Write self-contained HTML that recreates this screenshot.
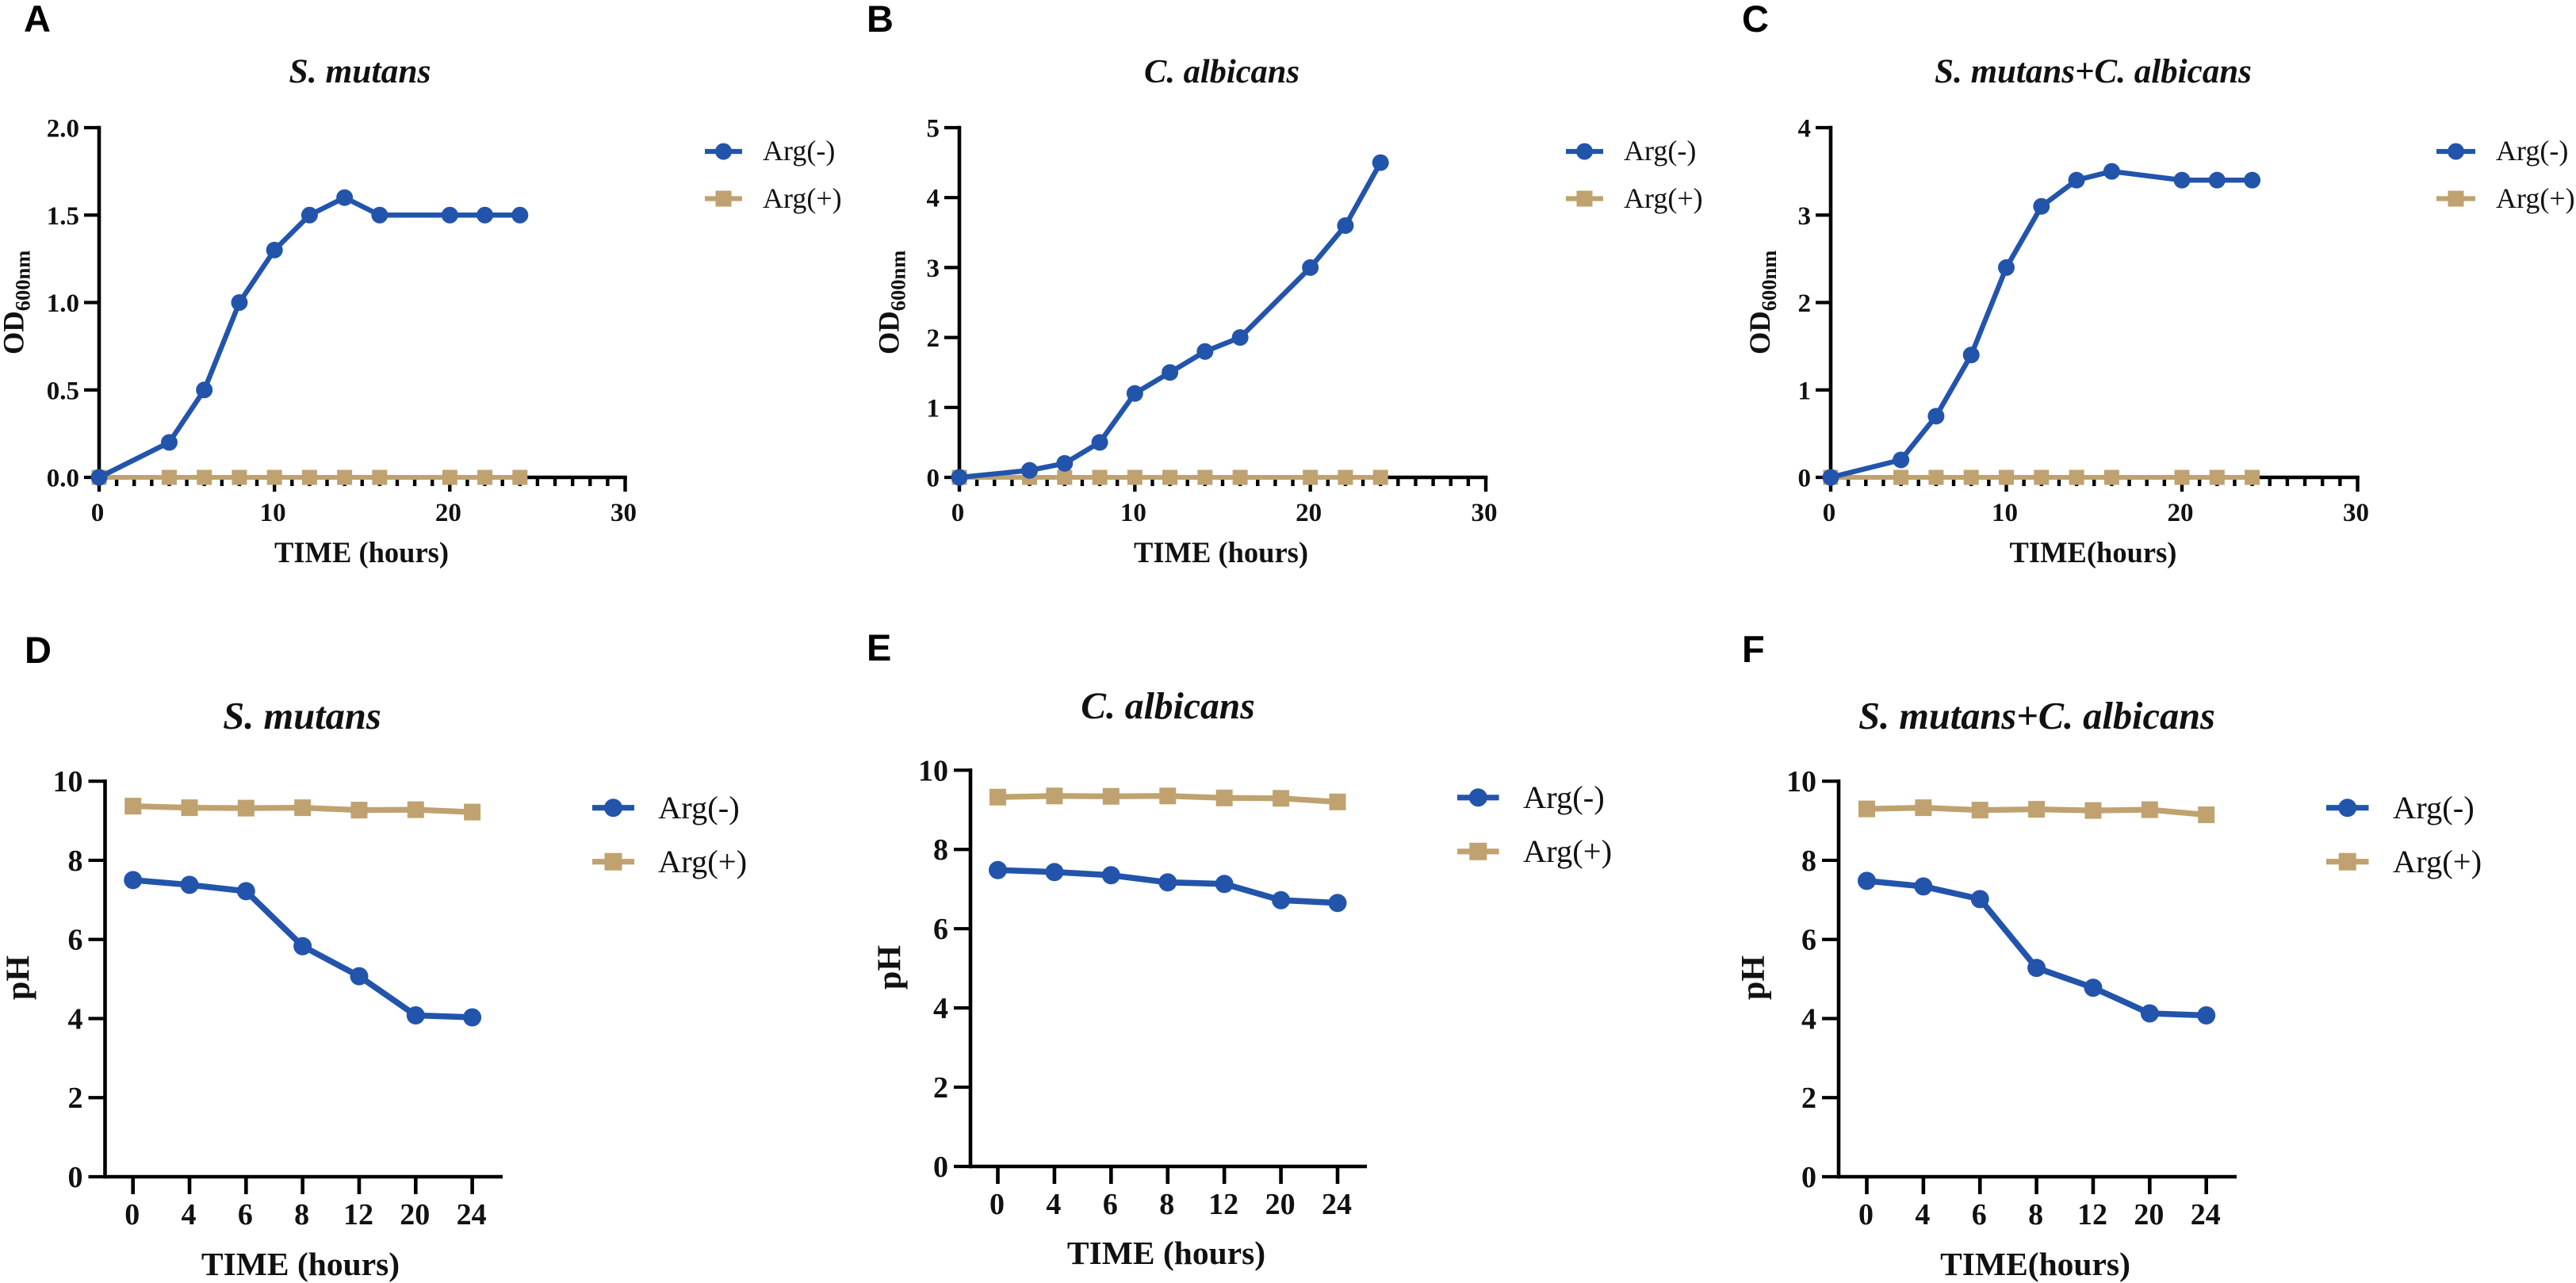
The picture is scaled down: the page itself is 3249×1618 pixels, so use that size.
<!DOCTYPE html>
<html lang="en">
<head>
<meta charset="utf-8">
<title>Growth and pH curves</title>
<style>
html,body{margin:0;padding:0;background:#fff;}
svg{display:block;}
text{font-family:"Liberation Serif",serif;fill:#111;}
.letter{font-family:"Liberation Sans",sans-serif;font-weight:700;font-size:47px;fill:#000;}
.title{font-weight:700;font-style:italic;text-anchor:middle;}
.xl,.yl{font-weight:700;}
.xl{text-anchor:middle;}
.leg{font-weight:400;}
</style>
</head>
<body>
<svg id="fig" xmlns="http://www.w3.org/2000/svg" width="3249" height="1618" viewBox="0 0 3249 1618">
<rect width="3249" height="1618" fill="#fff"/>

<text class="letter" x="30" y="40">A</text>
<text class="letter" x="1093" y="40">B</text>
<text class="letter" x="2197" y="40">C</text>
<text class="letter" x="31" y="836">D</text>
<text class="letter" x="1093" y="833">E</text>
<text class="letter" x="2197" y="835">F</text>

<text class="title" x="454" y="104" font-size="43.5">S. mutans</text>
<text class="title" x="1541" y="104" font-size="42.5">C. albicans</text>
<text class="title" x="2640" y="104" font-size="43">S. mutans+C. albicans</text>
<text class="title" x="381" y="919" font-size="48.5">S. mutans</text>
<text class="title" x="1473" y="906" font-size="47.6">C. albicans</text>
<text class="title" x="2569" y="919" font-size="48.4">S. mutans+C. albicans</text>

<text class="xl" x="456" y="709" font-size="36.5">TIME (hours)</text>
<text class="xl" x="1540" y="709" font-size="36.5">TIME (hours)</text>
<text class="xl" x="2640" y="709" font-size="36.5">TIME(hours)</text>
<text class="xl" x="379" y="1608" font-size="41.5">TIME (hours)</text>
<text class="xl" x="1471" y="1594" font-size="41.5">TIME (hours)</text>
<text class="xl" x="2567" y="1608" font-size="41.5">TIME(hours)</text>

<text class="yl" transform="translate(29.5,447) rotate(-90)" font-size="36.5">OD<tspan font-size="26.5" dy="8">600nm</tspan></text>
<text class="yl" transform="translate(1133.7,447) rotate(-90)" font-size="36.5">OD<tspan font-size="26.5" dy="8">600nm</tspan></text>
<text class="yl" transform="translate(2232,447) rotate(-90)" font-size="36.5">OD<tspan font-size="26.5" dy="8">600nm</tspan></text>
<text class="yl" transform="translate(36.5,1233) rotate(-90)" text-anchor="middle" font-size="42">pH</text>
<text class="yl" transform="translate(1135.5,1220) rotate(-90)" text-anchor="middle" font-size="42">pH</text>
<text class="yl" transform="translate(2225,1233) rotate(-90)" text-anchor="middle" font-size="42">pH</text>

<text class="leg" x="962" y="202" font-size="36">Arg(-)</text>
<text class="leg" x="962" y="262" font-size="36">Arg(+)</text>
<text class="leg" x="2048" y="202" font-size="36">Arg(-)</text>
<text class="leg" x="2048" y="262" font-size="36">Arg(+)</text>
<text class="leg" x="3148" y="202" font-size="36">Arg(-)</text>
<text class="leg" x="3148" y="262" font-size="36">Arg(+)</text>
<text class="leg" x="830" y="1032" font-size="40.5">Arg(-)</text>
<text class="leg" x="830" y="1100" font-size="40.5">Arg(+)</text>
<text class="leg" x="1921" y="1019" font-size="40.5">Arg(-)</text>
<text class="leg" x="1921" y="1087" font-size="40.5">Arg(+)</text>
<text class="leg" x="3018" y="1032" font-size="40.5">Arg(-)</text>
<text class="leg" x="3018" y="1100" font-size="40.5">Arg(+)</text>
</svg>

<script>
// ---- data: growth curves (top row) ----
const hours = [0, 4, 6, 8, 10, 12, 14, 16, 20, 22, 24];
const odMutansMinus = [0, 0.2, 0.5, 1.0, 1.3, 1.5, 1.6, 1.5, 1.5, 1.5, 1.5];
const odMutansPlus = [0, 0, 0, 0, 0, 0, 0, 0, 0, 0, 0];
const odAlbicansMinus = [0, 0.1, 0.2, 0.5, 1.2, 1.5, 1.8, 2.0, 3.0, 3.6, 4.5];
const odAlbicansPlus = [0, 0, 0, 0, 0, 0, 0, 0, 0, 0, 0];
const odMixedMinus = [0, 0.2, 0.7, 1.4, 2.4, 3.1, 3.4, 3.5, 3.4, 3.4, 3.4];
const odMixedPlus = [0, 0, 0, 0, 0, 0, 0, 0, 0, 0, 0];
const hourTicks = [0, 10, 20, 30];
const odTicksA = ['0.0', '0.5', '1.0', '1.5', '2.0'];
const odTicksB = ['0', '1', '2', '3', '4', '5'];
const odTicksC = ['0', '1', '2', '3', '4'];

// ---- data: pH curves (bottom row) ----
const phCategories = ['0', '4', '6', '8', '12', '20', '24'];
const phMutansMinus = [7.5, 7.38, 7.22, 5.83, 5.07, 4.08, 4.03];
const phMutansPlus = [9.37, 9.33, 9.32, 9.33, 9.27, 9.28, 9.22];
const phAlbicansMinus = [7.48, 7.43, 7.35, 7.17, 7.13, 6.72, 6.65];
const phAlbicansPlus = [9.32, 9.35, 9.34, 9.35, 9.30, 9.29, 9.20];
const phMixedMinus = [7.48, 7.34, 7.02, 5.28, 4.78, 4.13, 4.08];
const phMixedPlus = [9.30, 9.33, 9.27, 9.29, 9.26, 9.28, 9.15];
const phTicks = ['0', '2', '4', '6', '8', '10'];

const BLUE = '#2354ab';
const TAN = '#bfa26f';
const INK = '#000';
const NS = 'http://www.w3.org/2000/svg';
const fig = document.getElementById('fig');

function mk(parent, tag, attrs, txt) {
  const e = document.createElementNS(NS, tag);
  for (const k in attrs) e.setAttribute(k, attrs[k]);
  if (txt !== undefined) e.textContent = txt;
  parent.appendChild(e);
  return e;
}

function group(name) {
  const g = mk(fig, 'g', {});
  
  
  return g;
}

function marker(g, shape, cx, cy, size, color, name) {
  let m;
  if (shape === 'circle') {
    m = mk(g, 'circle', { cx: cx, cy: cy, r: size / 2, fill: color });
  } else {
    m = mk(g, 'rect', { x: cx - size / 2, y: cy - size / 2, width: size, height: size, fill: color });
  }
  
  
}

function series(g, pts, color, shape, size, lw, name) {
  const line = mk(g, 'polyline', {
    points: pts.map(p => p[0] + ',' + p[1]).join(' '),
    fill: 'none', stroke: color, 'stroke-width': lw, 'stroke-linejoin': 'round'
  });
  
  
  pts.forEach((p, i) => marker(g, shape, p[0], p[1], size, color, name + '-point-' + i));
}

function legend(g, x0, x1, y0, y1, size, lw, id) {
  const cx = (x0 + x1) / 2;
  const a = mk(g, 'line', { x1: x0, x2: x1, y1: y0, y2: y0, stroke: BLUE, 'stroke-width': lw });
  
  
  marker(g, 'circle', cx, y0, size, BLUE, 'legend-marker-' + id + '-arg-minus');
  const b = mk(g, 'line', { x1: x0, x2: x1, y1: y1, y2: y1, stroke: TAN, 'stroke-width': lw });
  
  
  marker(g, 'rect', cx, y1, size - 1, TAN, 'legend-marker-' + id + '-arg-plus');
}

function yAxis(g, x, yScale, labels, values, tickLen, fs, gap, dy, id) {
  const ax = mk(g, 'line', { x1: x, x2: x, y1: yScale(values[values.length - 1]) - 2.2, y2: yScale(values[0]) + 2.2, stroke: INK, 'stroke-width': 4.6 });
  
  
  labels.forEach((lab, i) => {
    const y = yScale(values[i]);
    const t = mk(g, 'line', { x1: x - tickLen, x2: x, y1: y, y2: y, stroke: INK, 'stroke-width': 4.2 });
    
    
    const l = mk(g, 'text', { x: x - tickLen - gap, y: y + dy, 'font-size': fs, 'font-weight': 700, 'text-anchor': 'end' }, lab);
    
    
  });
}

function growthPanel(id, x0, x1, yTop, yBot, yMax, yLabels, minus, plus, lx0, lx1) {
  const g = group('panel-' + id);
  const xs = h => x0 + (x1 - x0) * h / 30;
  const ys = v => yBot - (yBot - yTop) * v / yMax;
  const yVals = yLabels.map(Number);
  yAxis(g, x0, ys, yLabels, yVals, 19, 33, 6, 11.5, id);
  const xa = mk(g, 'line', { x1: x0 - 2, x2: x1 + 2.3, y1: yBot, y2: yBot, stroke: INK, 'stroke-width': 4.6 });
  
  
  for (let h = 0; h <= 30; h++) {
    const major = h % 10 === 0;
    const t = mk(g, 'line', { x1: xs(h), x2: xs(h), y1: yBot, y2: yBot + (major ? 18 : 11), stroke: INK, 'stroke-width': 4.4 });
    
    
  }
  hourTicks.forEach(h => {
    const l = mk(g, 'text', { x: xs(h) - 2, y: yBot + 55, 'font-size': 33, 'font-weight': 700, 'text-anchor': 'middle' }, String(h));
    
    
  });
  series(g, hours.map((h, i) => [xs(h), ys(plus[i])]), TAN, 'rect', 19, 6, 'series-' + id + '-arg-plus');
  series(g, hours.map((h, i) => [xs(h), ys(minus[i])]), BLUE, 'circle', 21, 6.4, 'series-' + id + '-arg-minus');
  legend(g, lx0, lx1, yTop + 30, yTop + 89.5, 21, 6.2, id);
}

function phPanel(id, axisX, endX, x0, x1, yTop, yBot, minus, plus, lx0, lx1, ly0, ly1) {
  const g = group('panel-' + id);
  const xs = i => x0 + (x1 - x0) * i / (phCategories.length - 1);
  const ys = v => yBot - (yBot - yTop) * v / 10;
  yAxis(g, axisX, ys, phTicks, phTicks.map(Number), 21, 38, 7, 13, id);
  const xa = mk(g, 'line', { x1: axisX - 2, x2: endX, y1: yBot, y2: yBot, stroke: INK, 'stroke-width': 4.6 });
  
  
  phCategories.forEach((c, i) => {
    const t = mk(g, 'line', { x1: xs(i), x2: xs(i), y1: yBot, y2: yBot + 22, stroke: INK, 'stroke-width': 4.6 });
    
    
    const l = mk(g, 'text', { x: xs(i) - 1, y: yBot + 60, 'font-size': 38, 'font-weight': 700, 'text-anchor': 'middle' }, c);
    
    
  });
  series(g, phCategories.map((c, i) => [xs(i), ys(plus[i])]), TAN, 'rect', 21, 7.2, 'series-' + id + '-arg-plus');
  series(g, phCategories.map((c, i) => [xs(i), ys(minus[i])]), BLUE, 'circle', 23, 7.6, 'series-' + id + '-arg-minus');
  legend(g, lx0, lx1, ly0, ly1, 23, 7.2, id);
}

growthPanel('a', 125, 788.5, 161, 602, 2, odTicksA, odMutansMinus, odMutansPlus, 889, 936);
growthPanel('b', 1210, 1874, 161, 602, 5, odTicksB, odAlbicansMinus, odAlbicansPlus, 1975, 2022);
growthPanel('c', 2309, 2973.5, 161, 602, 4, odTicksC, odMixedMinus, odMixedPlus, 3073, 3122);
phPanel('d', 132.5, 634, 167.7, 595.6, 985.2, 1484, phMutansMinus, phMutansPlus, 747, 800, 1018.7, 1086.7);
phPanel('e', 1224, 1724, 1258.5, 1687, 971.3, 1471, phAlbicansMinus, phAlbicansPlus, 1838, 1890.6, 1005.8, 1073.8);
phPanel('f', 2319, 2821, 2354.5, 2782.7, 985.2, 1484, phMixedMinus, phMixedPlus, 2934, 2987.5, 1018.7, 1086.7);
</script>
</body>
</html>
